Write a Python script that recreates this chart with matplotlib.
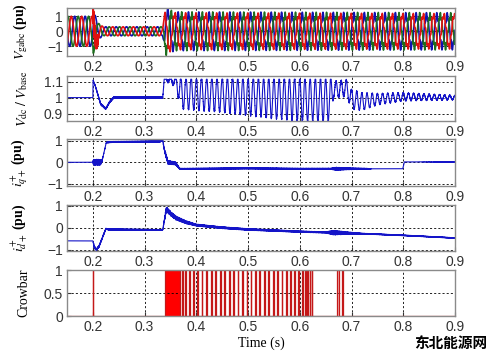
import numpy as np
import matplotlib.pyplot as plt

plt.rcParams['mathtext.fontset'] = 'stix'
plt.rcParams['font.family'] = ['Liberation Sans', 'DejaVu Sans']

time_ticks = [0.2, 0.3, 0.4, 0.5, 0.6, 0.7, 0.8, 0.9]
time_labels = ['0.2', '0.3', '0.4', '0.5', '0.6', '0.7', '0.8', '0.9']

# grid voltage: envelope of the three phases (pu), 50 Hz
vg_freq = 50.0
vg_t    = [0.15, 0.2, 0.2005, 0.205, 0.21, 0.22, 0.335, 0.338, 0.342, 0.35, 0.36, 0.9]
vg_amp  = [1.0, 1.0, 1.55, 1.0, 0.55, 0.3, 0.3, 1.0, 1.4, 1.2, 1.1, 1.05]
vg_burst_t   = [0.15, 0.2, 0.201, 0.208, 0.212, 0.9]
vg_burst_amp = [0.0, 0.0, 0.75, 0.5, 0.0, 0.0]
vg_dist_t   = [0.15, 0.335, 0.34, 0.9]
vg_dist_amp = [0.0, 0.0, 0.18, 0.18]

# dc link voltage: mid line, 100 Hz swing and ripple (pu)
vdc_freq = 100.0
vdc_t   = [0.15, 0.2, 0.2005, 0.205, 0.215, 0.225, 0.232, 0.24, 0.33, 0.335, 0.338, 0.36,
           0.37, 0.45, 0.55, 0.62, 0.66, 0.665, 0.69, 0.70, 0.72, 0.75, 0.8, 0.9]
vdc_mid = [1.0, 1.0, 1.11, 1.07, 0.96, 0.93, 0.97, 1.0, 1.0, 1.0, 1.12, 1.10,
           1.03, 1.02, 1.0, 0.99, 0.99, 1.05, 1.06, 0.99, 0.975, 0.99, 1.005, 1.0]
vdc_amp = [0.0, 0.0, 0.0, 0.0, 0.0, 0.0, 0.0, 0.0, 0.0, 0.0, 0.01, 0.03,
           0.10, 0.11, 0.13, 0.14, 0.14, 0.05, 0.05, 0.06, 0.055, 0.035, 0.025, 0.013]
vdc_rip = [0.0, 0.0, 0.0, 0.004, 0.006, 0.006, 0.006, 0.006, 0.006, 0.006, 0.006, 0.006,
           0.006, 0.006, 0.006, 0.006, 0.006, 0.006, 0.006, 0.004, 0.003, 0.003, 0.003, 0.003]
vdc_clip = 1.115

# positive sequence q-axis current (pu)
iq_t    = [0.15, 0.2, 0.215, 0.218, 0.226, 0.24, 0.33, 0.335, 0.338, 0.345, 0.36, 0.368,
           0.375, 0.5, 0.6, 0.7, 0.799, 0.802, 0.9]
iq_val  = [0.0, 0.0, 0.0, 0.1, 0.92, 0.95, 0.97, 1.03, 0.6, 0.0, -0.05, -0.3,
           -0.3, -0.28, -0.3, -0.3, -0.3, 0.02, 0.02]
iq_fz_t = [0.15, 0.2, 0.201, 0.214, 0.22, 0.23, 0.335, 0.342, 0.36, 0.37, 0.66, 0.67,
           0.69, 0.73, 0.74, 0.8, 0.9]
iq_fz   = [0.0, 0.0, 0.15, 0.15, 0.02, 0.025, 0.03, 0.1, 0.08, 0.025, 0.03, 0.08,
           0.05, 0.025, 0.0, 0.0, 0.01]

# positive sequence d-axis current (pu)
id_t    = [0.15, 0.2, 0.203, 0.207, 0.212, 0.225, 0.23, 0.335, 0.338, 0.342, 0.35, 0.36,
           0.38, 0.4, 0.45, 0.5, 0.6, 0.7, 0.8, 0.9]
id_val  = [-0.6, -0.6, -0.9, -1.0, -0.85, -0.05, -0.08, -0.1, 0.3, 0.85, 0.65, 0.45,
           0.25, 0.12, 0.0, -0.08, -0.18, -0.25, -0.35, -0.47]
id_fz_t = [0.15, 0.2, 0.202, 0.225, 0.335, 0.342, 0.4, 0.65, 0.665, 0.69, 0.72, 0.9]
id_fz   = [0.0, 0.0, 0.06, 0.03, 0.02, 0.12, 0.05, 0.03, 0.12, 0.06, 0.02, 0.015]

# crowbar pulses (on, off) in s
crowbar_on  = [0.2000, 0.3386, 0.372, 0.379, 0.386, 0.394, 0.402, 0.410, 0.419, 0.428,
               0.437, 0.446, 0.454, 0.463, 0.471, 0.480, 0.488, 0.497, 0.505, 0.514,
               0.522, 0.531, 0.539, 0.548, 0.556, 0.565, 0.573, 0.581, 0.589, 0.597,
               0.604, 0.610, 0.614, 0.619, 0.6235, 0.672, 0.682]
crowbar_off = [0.2006, 0.3676, 0.3735, 0.3805, 0.3875, 0.3955, 0.4035, 0.4115, 0.4205, 0.4295,
               0.4385, 0.4475, 0.4555, 0.4645, 0.4725, 0.4815, 0.4895, 0.4985, 0.5065, 0.5155,
               0.5235, 0.5325, 0.5405, 0.5495, 0.5575, 0.5665, 0.5745, 0.5825, 0.5905, 0.5985,
               0.6055, 0.6115, 0.6155, 0.6205, 0.6245, 0.6762, 0.6828]
crowbar_block = (0.3386, 0.3676)

t = np.arange(0.15, 0.9, 2e-5)


def fuzz(tt):
    # deterministic high frequency wiggle in [-1, 1]
    return (0.5 * np.sin(2 * np.pi * 1730 * tt) + 0.3 * np.sin(2 * np.pi * 2710 * tt + 1.0)
            + 0.2 * np.sin(2 * np.pi * 4110 * tt + 2.0))


blue = '#1414c8'
grid_kw = dict(color='black', linestyle=(0, (2.5, 2.5)), linewidth=0.6)
label_kw = dict(fontfamily='Liberation Serif', fontsize=10)

fig = plt.figure(figsize=(5, 3.6), dpi=100)
boxes = [(0.8444, 0.1333), (0.6647, 0.124), (0.4833, 0.1297), (0.3036, 0.1278), (0.1222, 0.1278)]
axes = [fig.add_axes([0.134, y0, 0.776, h]) for y0, h in boxes]

# panel 1: grid voltage
ax = axes[0]
amp = np.interp(t, vg_t, vg_amp)
burst = np.interp(t, vg_burst_t, vg_burst_amp)
dist = np.interp(t, vg_dist_t, vg_dist_amp)
ph = 2 * np.pi * vg_freq * t
va = amp * np.sin(ph) + dist * amp * np.sin(5 * ph + 0.4)
vb = amp * np.sin(ph - 2 * np.pi / 3) + dist * amp * np.sin(7 * ph + 1.1)
vc = amp * np.sin(ph + 2 * np.pi / 3) + dist * amp * np.sin(5 * ph + 2.3) + burst * fuzz(t)
ax.plot(t, va, color='#1010b0', lw=1.2)
ax.plot(t, vb, color='#1e6e1e', lw=1.2)
ax.plot(t, vc, color='#e01010', lw=1.2)
ax.set_ylim(-1.65, 1.55)
ax.set_yticks([-1, 0, 1])
ax.set_ylabel(r'$V_{\rm gabc}$ (pu)', fontweight='bold', **label_kw)

# panel 2: dc voltage
ax = axes[1]
vdc = (np.interp(t, vdc_t, vdc_mid)
       + np.interp(t, vdc_t, vdc_amp) * np.cos(2 * np.pi * vdc_freq * t)
       + np.interp(t, vdc_t, vdc_rip) * fuzz(t))
vdc = np.minimum(vdc, vdc_clip)
ax.plot(t, vdc, color=blue, lw=0.8)
ax.set_ylim(0.855, 1.135)
ax.set_yticks([0.9, 1.0, 1.1])
ax.set_yticklabels(['0.9', '1', '1.1'])
ax.set_ylabel(r'$V_{\rm dc}\ /\ V_{\rm base}$', **label_kw)

# panel 3: iq+
ax = axes[2]
iq = np.interp(t, iq_t, iq_val) + np.interp(t, iq_fz_t, iq_fz) * fuzz(t)
ax.plot(t, iq, color=blue, lw=0.8)
ax.set_ylim(-1.1, 1.07)
ax.set_yticks([-1, 0, 1])
ax.set_ylabel(r'$i_{q+}^{+}$ (pu)', fontweight='bold', **label_kw)

# panel 4: id+
ax = axes[3]
idd = np.interp(t, id_t, id_val) + np.interp(t, id_fz_t, id_fz) * fuzz(t + 0.0003)
ax.plot(t, idd, color=blue, lw=0.8)
ax.set_ylim(-1.05, 1.05)
ax.set_yticks([-1, 0, 1])
ax.set_ylabel(r'$i_{d+}^{+}$ (pu)', fontweight='bold', **label_kw)

# panel 5: crowbar
ax = axes[4]
xs, ys = [0.15], [0.0]
for on, off in zip(crowbar_on, crowbar_off):
    xs += [on, on, off, off]
    ys += [0.0, 1.0, 1.0, 0.0]
xs.append(0.9)
ys.append(0.0)
ax.fill_between(xs, 0, ys, color='#f4b0b0', lw=0)
ax.axvspan(crowbar_block[0], crowbar_block[1], color='#ff0000', lw=0)
ax.plot(xs, ys, color='#c41818', lw=0.9)
ax.set_ylim(0, 1)
ax.set_yticks([0, 0.5, 1])
ax.set_yticklabels(['0', '0.5', '1'])
ax.set_ylabel('Crowbar', **label_kw)
ax.set_xlabel('Time (s)', labelpad=2, **label_kw)

for ax in axes:
    ax.set_xlim(0.15, 0.9)
    ax.set_xticks(time_ticks)
    ax.set_xticklabels(time_labels)
    ax.grid(True, **grid_kw)
    ax.tick_params(direction='in', length=3, labelsize=10, colors='#333333', pad=3)
    ax.yaxis.set_label_coords(-0.095, 0.5)
    for sp in ax.spines.values():
        sp.set_color('#8a8a8a')
        sp.set_linewidth(1.0)

fig.text(0.975, 0.048, '东北能源网', family=['Noto Sans CJK SC', 'DejaVu Sans'],
         fontsize=10.5, fontweight='bold', ha='right', va='center')

fig.savefig('out.png', dpi=100)
